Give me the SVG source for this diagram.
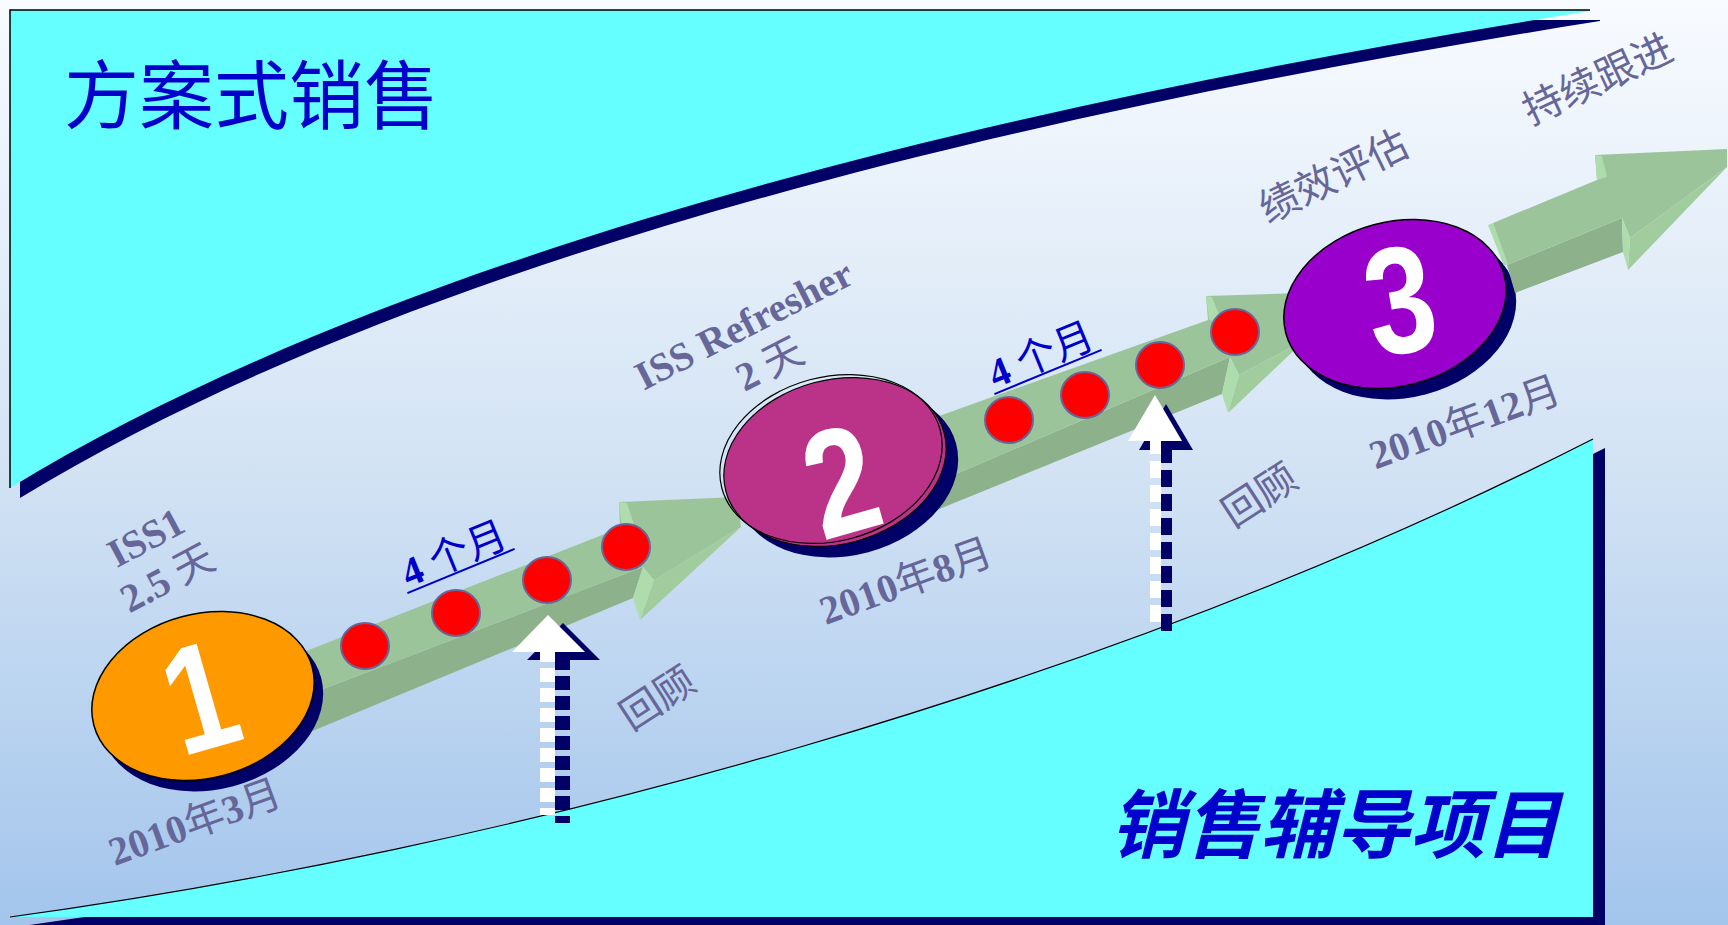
<svg xmlns="http://www.w3.org/2000/svg" width="1728" height="925" viewBox="0 0 1728 925">
  <defs>
    <linearGradient id="bg" x1="0" y1="0" x2="0" y2="1">
      <stop offset="0" stop-color="#f8fbff"/>
      <stop offset="0.5" stop-color="#d3e3f4"/>
      <stop offset="1" stop-color="#a3c5ec"/>
    </linearGradient>
    <path id="topBand" d="M10,10 L1590,10 L1590,11 C1000,105 400,250 10,488 Z"/>
    <path id="bottomBand" d="M10,917 C500,850 1100,690 1593,439 L1593,917 Z"/>
  </defs>
  <style>
    .cyan { fill: #66ffff; }
    .navy { fill: #000066; }
    .face-top { fill: #9cc49a; }
    .face-side { fill: #8db28b; }
    .face-head { fill: #a0cc9e; }
    .face-pale { fill: #aedcad; }
    .dot { fill: #ff0000; stroke: #666699; stroke-width: 2; }
    .lbl { fill: #666699; font-family: 'Liberation Serif', 'Noto Sans CJK SC', serif; font-size: 40px; }
    .b { font-weight: bold; }
    .cjk { font-family: 'Noto Sans CJK SC', sans-serif; font-weight: normal; }
    .num { fill: #ffffff; font-family: 'Liberation Sans', Arial, sans-serif; font-weight: bold; font-size: 145px; text-anchor: middle; }
    .month { fill: #0000cc; font-family: 'Liberation Serif', 'Noto Sans CJK SC', serif; font-size: 40px; text-anchor: middle; }
    .title { fill: #0000cc; font-family: 'Noto Sans CJK SC', sans-serif; font-size: 75px; }
  </style>

  <rect id="background" x="0" y="0" width="1728" height="925" fill="url(#bg)"/>

  <g id="solution-selling-band">
    <use href="#topBand" class="navy" transform="translate(10,10)"/>
    <use href="#topBand" class="cyan"/>
    <path d="M10,488 L10,10 L1590,10" fill="none" stroke="#000000" stroke-width="1.5"/>
    <text class="title" x="64" y="123">方案式销售</text>
  </g>

  <g id="coaching-band">
    <use href="#bottomBand" class="navy" transform="translate(12,9)"/>
    <use href="#bottomBand" class="cyan"/>
    <path d="M10,917 C500,850 1100,690 1593,439" fill="none" stroke="#000000" stroke-width="1.2"/>
    <text class="title" x="1110" y="852" font-weight="bold" font-style="italic">销售辅导项目</text>
  </g>

  <g id="connectors">
    <g id="arrow-1-2">
      <polygon class="face-side" points="250,717 643,567 633,598 250,757"/>
      <polygon class="face-top" points="250,673 620,528 619,502 737,497 741,527 654,580 643,567 250,717"/>
      <polygon class="face-head" points="654,580 741,527 640,620"/>
      <polygon class="face-pale" points="619,502 627,503 636,531 622,529"/>
      <polygon class="face-pale" points="643,567 654,580 640,620 633,598"/>
    </g>
    <g id="arrow-2-3">
      <polygon class="face-side" points="900,498 1230,357 1222,394 900,525"/>
      <polygon class="face-top" points="900,430 1208,320 1206,296 1300,293 1305,340 1239,375 1230,357 900,498"/>
      <polygon class="face-head" points="1239,375 1305,340 1228,413"/>
      <polygon class="face-pale" points="1206,296 1212,297 1222,322 1209,320"/>
      <polygon class="face-pale" points="1230,357 1239,375 1228,413 1222,394"/>
    </g>
  </g>

  <g id="dots-1-2">
    <ellipse class="dot" cx="365" cy="646" rx="24" ry="23"/>
    <ellipse class="dot" cx="456" cy="613" rx="24" ry="23"/>
    <ellipse class="dot" cx="547" cy="580" rx="24" ry="23"/>
    <ellipse class="dot" cx="626" cy="547" rx="24" ry="23"/>
  </g>
  <g id="dots-2-3">
    <ellipse class="dot" cx="1009" cy="420" rx="24" ry="23"/>
    <ellipse class="dot" cx="1085" cy="395" rx="24" ry="23"/>
    <ellipse class="dot" cx="1160" cy="365" rx="24" ry="23"/>
    <ellipse class="dot" cx="1235" cy="332" rx="24" ry="23"/>
  </g>

  <g id="node-1">
    <ellipse class="navy" cx="212" cy="707" rx="113" ry="82" transform="rotate(-15 212 707)"/>
    <ellipse cx="203" cy="696" rx="113" ry="82" fill="#ff9900" stroke="#000000" stroke-width="1.5" transform="rotate(-15 203 696)"/>
    <text class="num" transform="translate(200,697) rotate(-16) scale(0.85,1.05)" y="50">1</text>
  </g>

  <g id="node-2">
    <ellipse class="navy" cx="847" cy="473" rx="113" ry="82" transform="rotate(-15 847 473)"/>
    <ellipse cx="835" cy="462" rx="113" ry="82" fill="#bb3388" stroke="#000000" stroke-width="1.2" transform="rotate(-15 835 462)"/>
    <ellipse cx="831" cy="459" rx="113" ry="82" fill="none" stroke="#000000" stroke-width="1.2" transform="rotate(-15 831 459)"/>
    <text class="num" transform="translate(841,481) rotate(-16) scale(0.85,1.05)" y="50">2</text>
  </g>

  <g id="node-3">
    <ellipse class="navy" cx="1405" cy="315" rx="113" ry="82" transform="rotate(-15 1405 315)"/>
    <ellipse cx="1395" cy="304" rx="113" ry="82" fill="#9900cc" stroke="#000000" stroke-width="1.5" transform="rotate(-15 1395 304)"/>
    <text class="num" transform="translate(1400,300) rotate(-10) scale(0.85,1.05)" y="50">3</text>
  </g>

  <g id="arrow-3-out">
    <polygon class="face-side" points="1507,265 1622,218 1623,252 1515,293"/>
    <polygon class="face-top" points="1493,223 1597,180 1595,155 1727,149 1727,167 1630,238 1622,218 1507,265"/>
    <polygon class="face-head" points="1630,238 1727,167 1628,270"/>
    <polygon class="face-pale" points="1488,225 1493,223 1508,264 1504,266"/>
    <polygon class="face-pale" points="1595,155 1602,156 1607,177 1597,180"/>
    <polygon class="face-pale" points="1622,218 1630,238 1628,270 1623,252"/>
  </g>

  <g id="review-arrow-1">
    <g transform="translate(15,8)" fill="#000066" stroke="#000066">
      <polygon points="548,615 512,652 585,652" stroke="none"/>
      <line x1="547.5" y1="648" x2="547.5" y2="815" stroke-width="15" stroke-dasharray="14 6"/>
    </g>
    <polygon points="548,615 512,652 585,652" fill="#ffffff"/>
    <line x1="547.5" y1="648" x2="547.5" y2="815" stroke="#ffffff" stroke-width="15" stroke-dasharray="14 6"/>
  </g>

  <g id="review-arrow-2">
    <g transform="translate(11,9)" fill="#000066" stroke="#000066">
      <polygon points="1155,395 1128,441 1182,441" stroke="none"/>
      <line x1="1155.5" y1="437" x2="1155.5" y2="622" stroke-width="11" stroke-dasharray="17 7"/>
    </g>
    <polygon points="1155,395 1128,441 1182,441" fill="#ffffff"/>
    <line x1="1155.5" y1="437" x2="1155.5" y2="622" stroke="#ffffff" stroke-width="11" stroke-dasharray="17 7"/>
  </g>

  <g id="labels">
    <g id="label-iss1" transform="translate(146,538) rotate(-28)">
      <text class="lbl b" x="0" y="13" text-anchor="middle">ISS1</text>
      <text class="lbl" x="0" y="59" text-anchor="middle"><tspan class="b">2.5 </tspan><tspan class="cjk">天</tspan></text>
    </g>
    <g id="label-refresher" transform="translate(744,325) rotate(-27)">
      <text class="lbl b" x="0" y="13" text-anchor="middle">ISS Refresher</text>
      <text class="lbl" x="5" y="60" text-anchor="middle"><tspan class="b">2 </tspan><tspan class="cjk">天</tspan></text>
    </g>
    <text class="lbl" transform="translate(195,823) rotate(-20)" y="13" text-anchor="middle"><tspan class="b">2010</tspan><tspan class="cjk">年</tspan><tspan class="b">3</tspan><tspan class="cjk">月</tspan></text>
    <text class="lbl" transform="translate(906,582) rotate(-20)" y="13" text-anchor="middle"><tspan class="b">2010</tspan><tspan class="cjk">年</tspan><tspan class="b">8</tspan><tspan class="cjk">月</tspan></text>
    <text class="lbl" transform="translate(1465,423) rotate(-20)" y="13" text-anchor="middle"><tspan class="b">2010</tspan><tspan class="cjk">年</tspan><tspan class="b">12</tspan><tspan class="cjk">月</tspan></text>
    <text class="lbl cjk" transform="translate(658,699) rotate(-33)" y="13" text-anchor="middle">回顾</text>
    <text class="lbl cjk" transform="translate(1260,496) rotate(-33)" y="13" text-anchor="middle">回顾</text>
    <text class="lbl cjk" transform="translate(1334,177) rotate(-26)" y="13" text-anchor="middle">绩效评估</text>
    <text class="lbl cjk" transform="translate(1598,80) rotate(-25)" y="13" text-anchor="middle">持续跟进</text>
    <g id="label-4m-1" transform="translate(461,571) rotate(-22.4)">
      <text class="month" x="0" y="-5"><tspan font-weight="bold">4 </tspan><tspan class="cjk">个月</tspan></text>
      <line x1="-58" y1="0" x2="58" y2="0" stroke="#0000cc" stroke-width="2"/>
    </g>
    <g id="label-4m-2" transform="translate(1048,372) rotate(-22.4)">
      <text class="month" x="0" y="-5"><tspan font-weight="bold">4 </tspan><tspan class="cjk">个月</tspan></text>
      <line x1="-58" y1="0" x2="58" y2="0" stroke="#0000cc" stroke-width="2"/>
    </g>
  </g>
</svg>
